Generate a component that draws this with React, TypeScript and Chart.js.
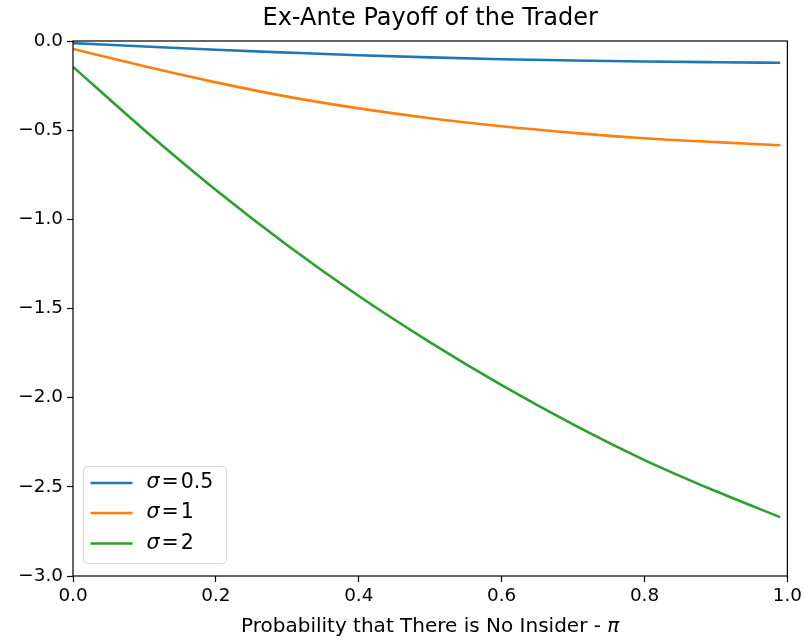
import React, { useEffect, useRef } from "react";
import { Chart, registerables } from "chart.js";

Chart.register(...registerables);

// ---- Data ----
const piValues = [0, 0.1, 0.2, 0.3, 0.4, 0.5, 0.6, 0.7, 0.8, 0.9, 0.99];
const payoffSigmaHalf = [-0.012, -0.031, -0.049, -0.065, -0.08, -0.092, -0.102, -0.109, -0.115, -0.119, -0.122];
const payoffSigmaOne = [-0.045, -0.142, -0.232, -0.312, -0.378, -0.433, -0.478, -0.515, -0.545, -0.567, -0.585];
const payoffSigmaTwo = [-0.145, -0.5, -0.835, -1.145, -1.43, -1.69, -1.93, -2.15, -2.35, -2.525, -2.67];
const sigmaLabels = ["0.5", "1", "2"];
const seriesColors = ["#1f77b4", "#ff7f0e", "#2ca02c"];
const xTickValues = [0, 0.2, 0.4, 0.6, 0.8, 1.0];
const yTickValues = [-3.0, -2.5, -2.0, -1.5, -1.0, -0.5, 0.0];
const chartTitle = "Ex-Ante Payoff of the Trader";
const xAxisLabelText = "Probability that There is No Insider - ";
const xAxisLabelSymbol = "π";

const FONT = "'DejaVu Sans', sans-serif";
const TICK_SIZE = 18.4;
const LABEL_SIZE = 20;
const TITLE_SIZE = 24;
const LEGEND_SIZE = 20.5;

const fmt = (v: number) => {
  const s = Math.abs(v) < 1e-9 ? "0.0" : v.toFixed(1);
  return s.replace("-", "\u2212");
};

const decorPlugin = {
  id: "decor",
  afterDraw(chart: any) {
    const { ctx, chartArea } = chart;
    const { left, right, top, bottom } = chartArea;
    ctx.save();
    // frame
    ctx.strokeStyle = "#000";
    ctx.lineWidth = 1.2;
    ctx.strokeRect(left, top, right - left, bottom - top);

    // title
    ctx.fillStyle = "#000";
    ctx.font = `${TITLE_SIZE}px ${FONT}`;
    ctx.textAlign = "center";
    ctx.textBaseline = "middle";
    ctx.fillText(chartTitle, (left + right) / 2, 19);

    // x axis label with italic pi
    ctx.font = `${LABEL_SIZE}px ${FONT}`;
    const w1 = ctx.measureText(xAxisLabelText).width;
    ctx.font = `italic ${LABEL_SIZE}px ${FONT}`;
    const w2 = ctx.measureText(xAxisLabelSymbol).width;
    const startX = (left + right) / 2 - (w1 + w2) / 2;
    ctx.textAlign = "left";
    ctx.font = `${LABEL_SIZE}px ${FONT}`;
    ctx.fillText(xAxisLabelText, startX, 627);
    ctx.font = `italic ${LABEL_SIZE}px ${FONT}`;
    ctx.fillText(xAxisLabelSymbol, startX + w1, 627);

    // legend
    const bx = left + 10.5;
    const by = bottom - 109.5;
    const bw = 143;
    const bh = 97;
    ctx.beginPath();
    (ctx as any).roundRect(bx, by, bw, bh, 4);
    ctx.fillStyle = "rgba(255,255,255,0.8)";
    ctx.fill();
    ctx.strokeStyle = "#d6d6d6";
    ctx.lineWidth = 1;
    ctx.stroke();
    const rowY = [by + 16.5, by + 46.5, by + 77];
    sigmaLabels.forEach((lab, i) => {
      const y = rowY[i];
      ctx.strokeStyle = seriesColors[i];
      ctx.lineWidth = 2.6;
      ctx.beginPath();
      ctx.moveTo(bx + 7, y);
      ctx.lineTo(bx + 49, y);
      ctx.stroke();
      ctx.fillStyle = "#000";
      ctx.textBaseline = "middle";
      ctx.textAlign = "left";
      let tx = bx + 63;
      ctx.font = `italic ${LEGEND_SIZE}px ${FONT}`;
      ctx.fillText("σ", tx, y);
      tx += ctx.measureText("σ").width + 2;
      ctx.font = `${LEGEND_SIZE}px ${FONT}`;
      ctx.fillText("=", tx, y);
      tx += ctx.measureText("=").width + 2;
      ctx.fillText(lab, tx, y);
    });
    ctx.restore();
  },
};

export default function App() {
  const canvasRef = useRef<HTMLCanvasElement | null>(null);

  useEffect(() => {
    document.body.style.margin = "0";
    const canvas = canvasRef.current;
    if (!canvas) return;
    const seriesData = [payoffSigmaHalf, payoffSigmaOne, payoffSigmaTwo];
    const chart = new Chart(canvas, {
      type: "line",
      data: {
        datasets: seriesData.map((vals, i) => ({
          label: "σ = " + sigmaLabels[i],
          data: piValues.map((x, j) => ({ x, y: vals[j] })),
          borderColor: seriesColors[i],
          backgroundColor: seriesColors[i],
          borderWidth: 2.6,
          pointRadius: 0,
          fill: false,
          cubicInterpolationMode: "monotone" as const,
        })),
      },
      options: {
        responsive: false,
        animation: false,
        maintainAspectRatio: false,
        layout: { padding: { top: 41, right: 16, left: 0, bottom: 0 } },
        plugins: {
          legend: { display: false },
          title: { display: false },
          tooltip: { enabled: false },
        },
        scales: {
          x: {
            type: "linear",
            min: 0,
            max: 1,
            afterFit: (s: any) => {
              s.height = 64;
            },
            afterBuildTicks: (s: any) => {
              s.ticks = xTickValues.map((v) => ({ value: v }));
            },
            border: { display: false },
            grid: {
              drawOnChartArea: false,
              drawTicks: true,
              tickLength: 6,
              tickColor: "#000",
              tickWidth: 1.2,
            },
            ticks: {
              color: "#000",
              padding: 3,
              maxRotation: 0,
              font: { family: FONT, size: TICK_SIZE },
              callback: (v: any) => fmt(Number(v)),
            },
          },
          y: {
            type: "linear",
            min: -3,
            max: 0,
            afterFit: (s: any) => {
              s.width = 73;
            },
            afterBuildTicks: (s: any) => {
              s.ticks = yTickValues.map((v) => ({ value: v }));
            },
            border: { display: false },
            grid: {
              drawOnChartArea: false,
              drawTicks: true,
              tickLength: 6,
              tickColor: "#000",
              tickWidth: 1.2,
            },
            ticks: {
              color: "#000",
              padding: 4,
              font: { family: FONT, size: TICK_SIZE },
              callback: (v: any) => fmt(Number(v)),
            },
          },
        },
      },
      plugins: [decorPlugin],
    });
    return () => chart.destroy();
  }, []);

  return (
    <div style={{ width: 805, height: 640, background: "#fff" }}>
      <canvas ref={canvasRef} width={805} height={640} style={{ display: "block" }} />
    </div>
  );
}
